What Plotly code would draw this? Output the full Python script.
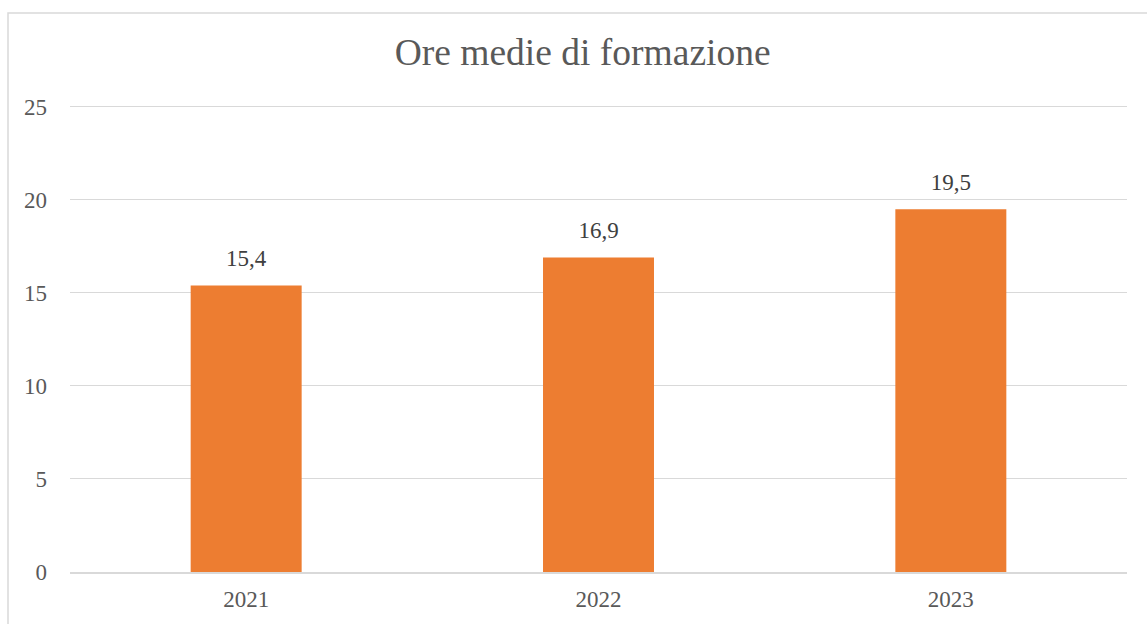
import plotly.graph_objects as go

# data
anni = ["2021", "2022", "2023"]
ore_medie = [15.4, 16.9, 19.5]
y_ticks = [0, 5, 10, 15, 20, 25]

ORANGE = "#ED7D31"
GRID = "#D9D9D9"
TXT = "#595959"
FONT = "Liberation Serif, Times New Roman, serif"

fig = go.Figure()
fig.add_trace(go.Bar(
    x=anni, y=ore_medie,
    marker_color=ORANGE, marker_line_width=0,
    hoverinfo="skip",
))

# value labels above the bars (Italian decimal comma); invisible marker sets the gap
fig.add_trace(go.Scatter(
    x=anni, y=ore_medie, mode="markers+text",
    text=[f"{v:.1f}".replace(".", ",") for v in ore_medie],
    textposition="top center",
    textfont=dict(family=FONT, size=23, color="#404040"),
    marker=dict(size=20, color="rgba(0,0,0,0)"),
    cliponaxis=False, hoverinfo="skip",
))

fig.update_layout(
    width=1147, height=624,
    margin=dict(l=70, r=20, t=105, b=52, autoexpand=False),
    paper_bgcolor="white", plot_bgcolor="white",
    bargap=0.685,
    showlegend=False,
    font=dict(family=FONT, size=23, color=TXT),
    title=dict(text="Ore medie di formazione", x=0.508, xanchor="center",
               y=0.917, yanchor="middle",
               font=dict(family=FONT, size=37.5, color=TXT)),
)
# range a touch above 25 so the top gridline is not clipped away
fig.update_yaxes(range=[0, 25.1], tickvals=y_ticks, showgrid=True, gridcolor=GRID,
                 gridwidth=1, zeroline=False, showline=False, ticks="",
                 automargin=False,
                 ticklabelstandoff=22, tickfont=dict(size=23, color=TXT))
fig.update_xaxes(type="category", showline=True, linecolor=GRID, linewidth=1.5,
                 ticks="", automargin=False,
                 ticklabelstandoff=6, tickfont=dict(size=23, color=TXT))

# chart border (runs past the bottom/right edge as in the reference)
fig.add_shape(type="rect", xref="paper", yref="paper",
              x0=(8 - 70) / 1057, x1=1.05, y0=-0.2, y1=(572 - 13) / 467,
              line=dict(color=GRID, width=1.5), fillcolor="rgba(0,0,0,0)",
              layer="below")

fig.write_html("out.html", config={"displayModeBar": False},
               post_script="document.body.style.margin='0';")
